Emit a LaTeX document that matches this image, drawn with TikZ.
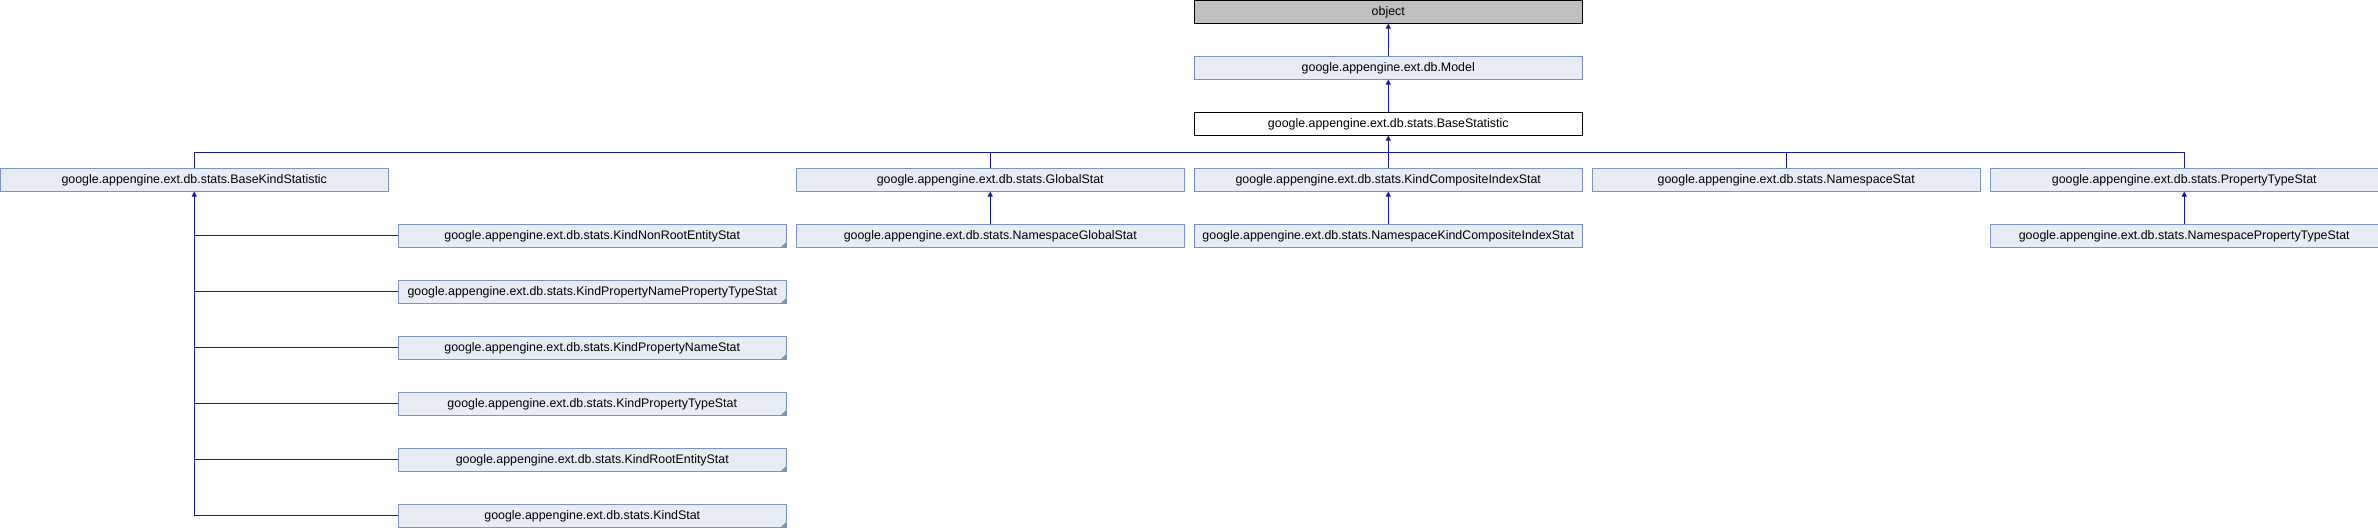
\documentclass[tikz,border=0pt]{standalone}
\usepackage{fontspec}
\setmainfont{Liberation Sans}
\usetikzlibrary{arrows.meta}
\definecolor{boxfill}{HTML}{E8ECF5}
\definecolor{boxline}{HTML}{7B93C9}
\definecolor{edgecol}{HTML}{1A1A9C}
\definecolor{objfill}{HTML}{BFBFBF}
\tikzset{
  cls/.style={draw=boxline, fill=boxfill, line width=1pt, minimum width=387.5pt, minimum height=22.5pt, inner sep=0pt, font=\fontsize{12.4}{14}\selectfont},
  objbox/.style={cls, draw=black, fill=objfill},
  curbox/.style={cls, draw=black, fill=white},
  edge/.style={draw=edgecol, line width=1pt},
  arr/.style={edge, -{Triangle[length=5pt,width=5pt]}},
}
\newcommand{\trunc}[1]{\fill[boxline] (#1.south east) -- ++(-6,0) -- ++(6,-6) -- cycle;}
\begin{document}
\begin{tikzpicture}[x=1pt,y=-1pt]
\useasboundingbox (0,0) rectangle (2378,528);
% columns centres
\def\cA{194.25}\def\cB{592.25}\def\cC{990.25}\def\cD{1388.25}\def\cE{1786.25}\def\cF{2184.25}
\node[objbox] (obj) at (\cD,11.8) {object};
\node[cls] (model) at (\cD,67.8) {google.appengine.ext.db.Model};
\node[curbox] (bs) at (\cD,123.8) {google.appengine.ext.db.stats.BaseStatistic};
\node[cls] (bks) at (\cA,179.8) {google.appengine.ext.db.stats.BaseKindStatistic};
\node[cls] (gs) at (\cC,179.8) {google.appengine.ext.db.stats.GlobalStat};
\node[cls] (kcis) at (\cD,179.8) {google.appengine.ext.db.stats.KindCompositeIndexStat};
\node[cls] (ns) at (\cE,179.8) {google.appengine.ext.db.stats.NamespaceStat};
\node[cls] (pts) at (\cF,179.8) {google.appengine.ext.db.stats.PropertyTypeStat};
\node[cls] (ngs) at (\cC,235.8) {google.appengine.ext.db.stats.NamespaceGlobalStat};
\node[cls] (nkcis) at (\cD,235.8) {google.appengine.ext.db.stats.NamespaceKindCompositeIndexStat};
\node[cls] (npts) at (\cF,235.8) {google.appengine.ext.db.stats.NamespacePropertyTypeStat};
\node[cls] (k1) at (\cB,235.8) {google.appengine.ext.db.stats.KindNonRootEntityStat};
\node[cls] (k2) at (\cB,291.8) {google.appengine.ext.db.stats.KindPropertyNamePropertyTypeStat};
\node[cls] (k3) at (\cB,347.8) {google.appengine.ext.db.stats.KindPropertyNameStat};
\node[cls] (k4) at (\cB,403.8) {google.appengine.ext.db.stats.KindPropertyTypeStat};
\node[cls] (k5) at (\cB,459.8) {google.appengine.ext.db.stats.KindRootEntityStat};
\node[cls] (k6) at (\cB,515.8) {google.appengine.ext.db.stats.KindStat};
\foreach \k in {k1,k2,k3,k4,k5,k6} {\trunc{\k}}
% edges
\draw[arr] (model.north) -- (obj.south);
\draw[arr] (bs.north) -- (model.south);
\draw[edge] (bks.north) -- ++(0,-16) -| (pts.north);
\draw[edge] (gs.north) -- ++(0,-16);
\draw[edge] (ns.north) -- ++(0,-16);
\draw[arr] (kcis.north) -- (bs.south);
\draw[arr] (ngs.north) -- (gs.south);
\draw[arr] (nkcis.north) -- (kcis.south);
\draw[arr] (npts.north) -- (pts.south);
\draw[arr] (k6.west) -| (bks.south);
\foreach \k in {k1,k2,k3,k4,k5} {\draw[edge] (\k.west) -- (\k.west -| bks.south);}
\end{tikzpicture}
\end{document}
